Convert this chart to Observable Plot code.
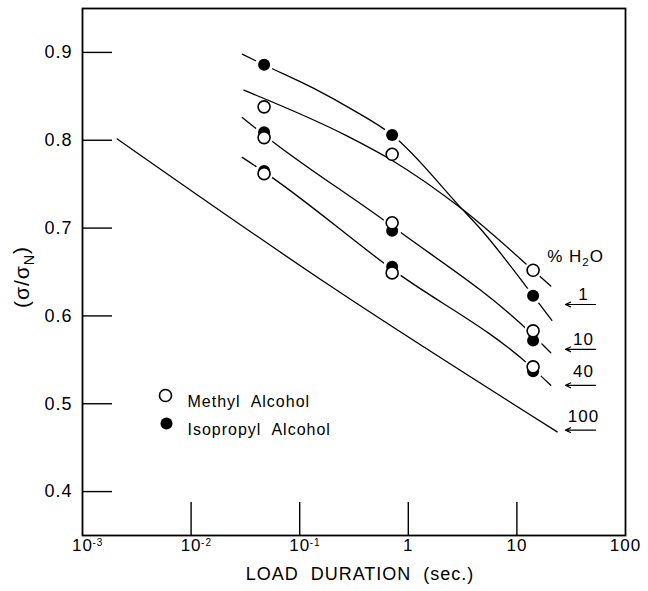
<!DOCTYPE html>
<html><head><meta charset="utf-8">
<script src="https://cdn.jsdelivr.net/npm/d3@7"></script>
<script src="https://cdn.jsdelivr.net/npm/@observablehq/plot@0.6"></script>
<style>
body{margin:0;background:#fff;}
#chart text{white-space:pre;letter-spacing:1px;}
#chart g[aria-label="legend-text"] text{letter-spacing:1.1px;}
</style></head><body><div id="chart"></div>
<script>
// ---- data ----
const loadDuration = [0.047, 0.71, 14.1];            // seconds
const methyl1  = [0.838, 0.784, 0.652];
const methyl10 = [0.803, 0.706, 0.583];
const methyl40 = [0.762, 0.649, 0.542];
const iso1  = [0.886, 0.806, 0.623];
const iso10 = [0.809, 0.697, 0.572];
const iso40 = [0.765, 0.656, 0.537];

// drawn curves (x = seconds, y = σ/σN)
const curveIso1X = [0.0296, 0.0468, 0.135, 0.294, 0.711, 3.13, 4.63, 14.1, 21];
const curveIso1Y = [0.898, 0.886, 0.859, 0.836, 0.806, 0.7216, 0.699, 0.623, 0.595];
const curveMet1X = [0.0306, 0.272, 0.711, 3.13, 14.1, 20.5];
const curveMet1Y = [0.857, 0.805, 0.777, 0.7216, 0.652, 0.634];
const curve10X = [0.0296, 0.047, 0.711, 14.1, 20.5];
const curve10Y = [0.826, 0.806, 0.702, 0.578, 0.558];
const curve40X = [0.0296, 0.047, 0.711, 14.1, 20.5];
const curve40Y = [0.7805, 0.764, 0.653, 0.540, 0.521];
const curve100X = [0.00209, 0.192, 23.5];
const curve100Y = [0.8015, 0.634, 0.468];

const h2oLabels = ["1", "10", "40", "100"];
const h2oArrowY = [0.613, 0.562, 0.521, 0.470];
const h2oLabelY = [0.6245, 0.573, 0.537, 0.4856];
const arrowFromX = 53, arrowToX = 28, h2oLabelX = 41;
const h2oTitle = "% H2O", h2oTitleX = 34.7, h2oTitleY = 0.668;

const yTicks = [0.4, 0.5, 0.6, 0.7, 0.8, 0.9];
const xTickMarks = [1e-2, 1e-1, 1, 10];
const xTickValues = [1e-3, 1e-2, 1e-1, 1, 10, 100];
const xTickBase = ["10", "10", "10", "1", "10", "100"];
const xTickExp = ["-3", "-2", "-1", "", "", ""];
const legendLabels = ["Methyl  Alcohol", "Isopropyl  Alcohol"];
const xTitle = "LOAD  DURATION  (sec.)";
const yTitle = "(σ/σN)";

// ---- tables ----
function curveRows(name, xs, ys) { return xs.map((x, i) => ({curve: name, x, y: ys[i]})); }
const curves = [
  ...curveRows("iso1", curveIso1X, curveIso1Y),
  ...curveRows("met1", curveMet1X, curveMet1Y),
  ...curveRows("c10", curve10X, curve10Y),
  ...curveRows("c40", curve40X, curve40Y),
  ...curveRows("c100", curve100X, curve100Y)
];
function pts(kind, h2o, ys) { return ys.map((y, i) => ({kind, h2o, x: loadDuration[i], y, col: i})); }
const methylPts = [...pts("methyl", 1, methyl1), ...pts("methyl", 10, methyl10), ...pts("methyl", 40, methyl40)];
const isoPts = [...pts("iso", 1, iso1), ...pts("iso", 10, iso10), ...pts("iso", 40, iso40)];
const allPts = [...methylPts, ...isoPts];
const h2oRows = h2oLabels.map((t, i) => ({t, ay: h2oArrowY[i], ly: h2oLabelY[i]}));

const font = "'Liberation Sans', Arial, Helvetica, sans-serif";

const chart = Plot.plot({
  width: 648, height: 591,
  marginLeft: 82, marginRight: 23, marginTop: 8, marginBottom: 56,
  style: {fontFamily: font, fontSize: "16px", color: "black", background: "white"},
  x: {type: "log", domain: [1e-3, 100]},
  y: {domain: [0.35, 0.95]},
  marks: [
    // curves
    Plot.line(curves, {x: "x", y: "y", z: "curve", curve: "monotone-x", stroke: "black", strokeWidth: 1.3}),
    // white halos give the drafting gaps around the points
    Plot.dot(allPts.filter(d => !(d.kind === "methyl" && d.h2o === 1 && d.col < 2)), {x: "x", y: "y", r: 9, fill: "white"}),
    Plot.dot(isoPts, {x: "x", y: "y", r: 6, fill: "black"}),
    Plot.dot(methylPts, {x: "x", y: "y", r: 6, fill: "white", stroke: "black", strokeWidth: 1.6}),
    // frame and axes
    Plot.frame({stroke: "black", strokeWidth: 1.8}),
    Plot.axisY(yTicks, {tickSize: 30, dx: 30, fill: "none", label: null, strokeWidth: 1.4}),
    Plot.axisY(yTicks, {tickSize: 0, tickPadding: 10, tickFormat: d => d.toFixed(1), label: null, fontSize: 18}),
    Plot.axisX(xTickMarks, {tickSize: 33, dy: -33, fill: "none", label: null, strokeWidth: 1.4}),
    Plot.text(xTickValues, {x: d => d, frameAnchor: "bottom", dy: 15, text: (d, i) => xTickBase[i], fontSize: 17}),
    Plot.text(xTickValues, {x: d => d, frameAnchor: "bottom", dy: 10, dx: 10, textAnchor: "start", text: (d, i) => xTickExp[i], fontSize: 10}),
    Plot.text([xTitle], {frameAnchor: "bottom", dy: 44, dx: 6, fontSize: 18}),
    Plot.text([yTitle], {frameAnchor: "left", dx: -60, dy: 6, rotate: -90, fontSize: 21}),
    // % H2O arrows and labels
    Plot.arrow(h2oRows, {x1: () => arrowFromX, x2: () => arrowToX, y: "ay", stroke: "black", strokeWidth: 1.2, headLength: 7, headAngle: 50}),
    Plot.text(h2oRows, {x: () => h2oLabelX, y: "ly", text: "t", fontSize: 17}),
    Plot.text([h2oTitle], {x: () => h2oTitleX, y: () => h2oTitleY, fontSize: 17}),
    // legend
    Plot.dot([legendLabels[0]], {frameAnchor: "top-left", dx: 83, dy: 387, r: 6, fill: "white", stroke: "black", strokeWidth: 1.6}),
    Plot.dot([legendLabels[1]], {frameAnchor: "top-left", dx: 84, dy: 415, r: 6, fill: "black"}),
    Plot.text([legendLabels[0]], {frameAnchor: "top-left", dx: 105, dy: 387, textAnchor: "start", fontSize: 16, ariaLabel: "legend-text"}),
    Plot.text([legendLabels[1]], {frameAnchor: "top-left", dx: 105, dy: 415, textAnchor: "start", fontSize: 16, ariaLabel: "legend-text"})
  ]
});
document.getElementById("chart").appendChild(chart);

// subscripts (σN, H2O)
const NS = "http://www.w3.org/2000/svg";
function subscript(el, before, sub, after) {
  while (el.firstChild) el.removeChild(el.firstChild);
  el.appendChild(document.createTextNode(before));
  const t1 = document.createElementNS(NS, "tspan");
  t1.setAttribute("dy", "0.35em"); t1.setAttribute("font-size", "0.68em");
  t1.textContent = sub; el.appendChild(t1);
  const t2 = document.createElementNS(NS, "tspan");
  t2.setAttribute("dy", "-0.24em");
  t2.textContent = after; el.appendChild(t2);
}
// place an element so that its box is centred on (cx, cy) in SVG pixels
function centre(el, cx, cy) {
  const s = chart.getBoundingClientRect(), r = el.getBoundingClientRect();
  const dx = cx - (r.left + r.width / 2 - s.left), dy = cy - (r.top + r.height / 2 - s.top);
  el.setAttribute("transform", `translate(${dx},${dy}) ` + (el.getAttribute("transform") || ""));
}
chart.querySelectorAll("text").forEach(el => {
  if (el.textContent === yTitle) { subscript(el, "(σ/σ", "N", ")"); centre(el, 23, 277); }
  else if (el.textContent === h2oTitle) subscript(el, "% H", "2", "O");
});
</script></body></html>
